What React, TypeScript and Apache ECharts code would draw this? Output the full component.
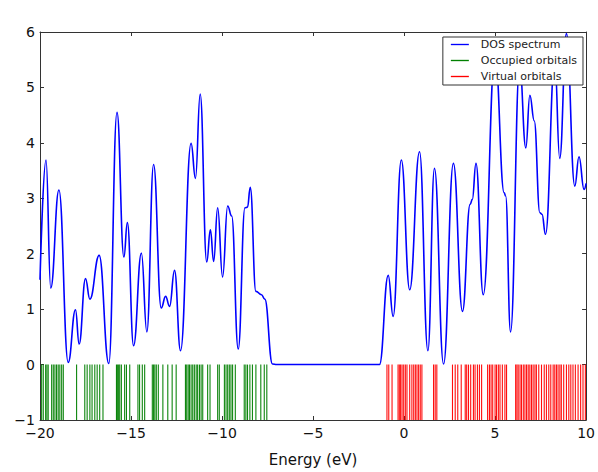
import React, { useEffect, useRef } from "react";
import * as echarts from "echarts";

// DOS spectrum: energies (eV) and values (peaks, valleys, shoulders)
const dosEnergy = [
  -20, -19.67, -19.41, -18.96, -18.45, -18.05, -17.85, -17.5, -17.26, -16.75,
  -16.22, -15.77, -15.39, -15.2, -14.86, -14.43, -14.13, -13.76, -13.34, -13.1,
  -12.88, -12.61, -12.28, -11.7, -11.46, -11.2, -10.84, -10.64, -10.46, -10.24,
  -9.97, -9.69, -9.47, -9.11, -8.74, -8.6, -8.45, -8.14, -7.83, -7.65,
  -7.23, -7.0, -4.0, -1.35, -0.87, -0.6, -0.15, 0.31, 0.85, 1.31,
  1.67, 2.17, 2.71, 3.21, 3.63, 3.75, 3.95, 4.35, 5.0, 5.5,
  5.58, 5.85, 6.35, 6.69, 6.91, 7.15, 7.46, 7.58, 7.77, 8.28,
  8.55, 8.92, 9.38, 9.61, 9.89, 10,
];
const dosValue = [
  1.53, 3.69, 1.38, 3.15, 0.04, 0.99, 0.37, 1.55, 1.18, 1.97,
  0.02, 4.55, 1.94, 2.56, 0.34, 2.01, 0.59, 3.61, 1.02, 1.23,
  1.05, 1.7, 0.25, 3.99, 3.36, 4.88, 1.85, 2.43, 1.86, 2.83,
  1.58, 2.86, 2.68, 0.28, 2.83, 2.84, 3.2, 1.32, 1.26, 1.18,
  0.01, 0, 0, 0, 1.61, 0.87, 3.69, 1.35, 3.84, 0.25,
  3.54, 0.01, 3.63, 0.96, 2.89, 2.98, 3.63, 1.26, 5.6, 3.1,
  3.04, 0.59, 5.4, 3.91, 4.86, 4.4, 2.74, 2.71, 2.35, 5.5,
  3.72, 5.97, 3.22, 3.75, 3.16, 3.27,
];

// Orbital energies (eV)
const occupiedOrbitals = [
  -19.91, -19.82, -19.69, -19.62, -19.55, -19.36, -19.27, -19.18, -19.09, -19.0,
  -18.91, -18.81, -18.72, -17.99, -17.54, -17.41, -17.26, -17.14, -16.99, -16.86,
  -16.72, -16.54, -15.8, -15.75, -15.68, -15.62, -15.53, -15.35, -15.25, -15.07,
  -14.62, -14.53, -14.38, -14.25, -13.83, -13.76, -13.69, -13.61, -13.5, -13.25,
  -12.98, -12.74, -12.52, -12.01, -11.94, -11.86, -11.79, -11.7, -11.61, -11.52,
  -11.42, -11.34, -11.24, -11.15, -11.06, -10.79, -10.66, -10.24, -10.15, -9.87,
  -9.78, -9.69, -9.6, -9.51, -9.42, -9.27, -8.78, -8.69, -8.6, -8.47,
  -8.33, -8.14, -7.87, -7.68, -7.54,
];
const virtualOrbitals = [
  -0.94, -0.84, -0.66, -0.33, -0.26, -0.19, -0.11, -0.02, 0.07, 0.16,
  0.31, 0.43, 0.53, 0.62, 0.71, 0.8, 0.89, 0.98, 1.62, 1.71,
  1.8, 2.66, 2.81, 2.95, 3.14, 3.36, 3.44, 3.54, 3.66, 3.81,
  3.9, 4.03, 4.14, 4.26, 4.59, 4.69, 4.78, 4.87, 5.0, 5.08,
  5.18, 5.27, 5.4, 5.54, 5.63, 6.13, 6.2, 6.27, 6.37, 6.45,
  6.55, 6.64, 6.73, 6.82, 6.91, 7.0, 7.09, 7.19, 7.27, 7.4,
  7.55, 7.7, 7.82, 7.95, 8.06, 8.19, 8.28, 8.37, 8.46, 8.56,
  8.64, 8.77, 8.92, 9.05, 9.16, 9.28, 9.41, 9.56, 9.7, 9.83,
  9.96,
];

const seriesNames = ["DOS spectrum", "Occupied orbitals", "Virtual orbitals"];
const xRange = [-20, 10];
const yRange = [-1, 6];
const stickRange = [-1, 0];
const axisTitle = "Energy (eV)";

const FONT = "DejaVu Sans";
const minus = (v: number) => String(v).replace("-", "\u2212");

function stickSeries(name: string, energies: number[], color: string) {
  return {
    name,
    type: "custom",
    xAxisIndex: 0,
    yAxisIndex: 0,
    itemStyle: { color },
    data: energies.map((e) => [e, stickRange[1]]),
    renderItem: (_params: any, api: any) => {
      const e = api.value(0);
      const a = api.coord([e, stickRange[1]]);
      const b = api.coord([e, stickRange[0]]);
      return {
        type: "line",
        shape: { x1: a[0], y1: a[1], x2: b[0], y2: b[1] },
        style: { stroke: color, lineWidth: 1.1, opacity: 0.95 },
      };
    },
  };
}

export default function App() {
  const ref = useRef<HTMLDivElement>(null);
  useEffect(() => {
    if (!ref.current) return;
    const chart = echarts.init(ref.current, undefined, { renderer: "svg" });
    const axisLine = { show: true, onZero: false, lineStyle: { color: "#333", width: 1 } };
    const tick = { show: true, inside: true, length: 4, lineStyle: { color: "#333" } };
    chart.setOption({
      animation: false,
      backgroundColor: "#fff",
      textStyle: { fontFamily: FONT },
      grid: { left: 40, right: 10, top: 32, bottom: 46, containLabel: false },
      legend: {
        data: seriesNames,
        orient: "vertical",
        right: 15,
        top: 37,
        icon: "path://M0,0L20,0L20,1.5L0,1.5Z",
        itemWidth: 18,
        itemHeight: 12,
        itemGap: 5,
        padding: [2, 6, 3, 8],
        borderColor: "#333",
        borderWidth: 1,
        backgroundColor: "#fff",
        textStyle: { fontSize: 11, color: "#222", fontFamily: FONT, padding: [0, 0, 0, 7] },
      },
      xAxis: [
        {
          type: "value",
          min: xRange[0],
          max: xRange[1],
          interval: 5,
          name: axisTitle,
          nameLocation: "middle",
          nameGap: 32,
          nameTextStyle: { fontSize: 15, color: "#111", fontFamily: FONT },
          axisLine,
          axisTick: tick,
          splitLine: { show: false },
          axisLabel: {
            fontSize: 14, lineHeight: 14, color: "#111", margin: 6,
            fontFamily: FONT, formatter: minus,
          },
        },
        {
          type: "value",
          position: "top",
          min: xRange[0],
          max: xRange[1],
          interval: 5,
          axisLine,
          axisTick: tick,
          splitLine: { show: false },
          axisLabel: { show: false },
        },
      ],
      yAxis: [
        {
          type: "value",
          position: "left",
          min: yRange[0],
          max: yRange[1],
          interval: 1,
          axisLine,
          axisTick: tick,
          splitLine: { show: false },
          axisLabel: {
            fontSize: 14, lineHeight: 11, color: "#111", margin: 5,
            fontFamily: FONT, formatter: minus,
          },
        },
        {
          type: "value",
          position: "right",
          min: yRange[0],
          max: yRange[1],
          interval: 1,
          axisLine,
          axisTick: tick,
          splitLine: { show: false },
          axisLabel: { show: false },
        },
      ],
      series: [
        {
          name: seriesNames[0],
          type: "line",
          xAxisIndex: 0,
          yAxisIndex: 0,
          data: dosEnergy.map((e, i) => [e, dosValue[i]]),
          smooth: 0.45,
          smoothMonotone: "x",
          showSymbol: false,
          symbol: "none",
          lineStyle: { color: "#0000ff", width: 1.6 },
          itemStyle: { color: "#0000ff" },
          z: 3,
        },
        stickSeries(seriesNames[1], occupiedOrbitals, "#008000"),
        stickSeries(seriesNames[2], virtualOrbitals, "#ff0000"),
      ],
    });
    return () => chart.dispose();
  }, []);
  return (
    <div
      ref={ref}
      style={{ position: "absolute", left: 0, top: 0, width: 598, height: 472 }}
    />
  );
}
